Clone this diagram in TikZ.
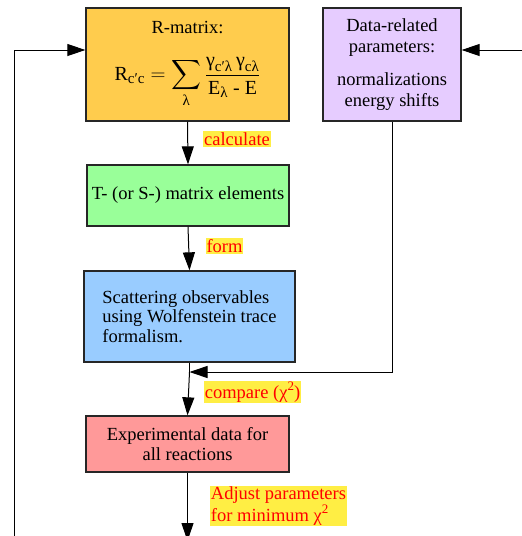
\documentclass[tikz,border=0pt]{standalone}
\usepackage{amsmath}
\usepackage{fontspec}
\setmainfont{Liberation Serif}
\usetikzlibrary{arrows.meta}

\definecolor{rmatcol}{HTML}{FFCC4D}
\definecolor{datacol}{HTML}{E6CCFF}
\definecolor{tmatcol}{HTML}{99FF99}
\definecolor{obscol}{HTML}{99CCFF}
\definecolor{expcol}{HTML}{FF9999}
\definecolor{notecol}{HTML}{FFEE44}

\newcommand{\subtxt}[1]{\text{\fontsize{15}{15}\selectfont #1}}
\newcommand{\chisq}{χ\raisebox{0.45em}{\fontsize{13}{13}\selectfont 2}}

\tikzset{
  box/.style={draw=black!85, line width=1.3pt, inner sep=0pt, align=center,
    font=\fontsize{18.5}{19.5}\selectfont},
  note/.style={fill=notecol, text=red, inner sep=1pt, align=left,
    font=\fontsize{18.5}{22}\selectfont},
  link/.style={line width=1pt, -{Triangle[length=18pt,width=12pt]}}
}

\begin{document}
\begin{tikzpicture}[x=1pt,y=-1pt]
    \useasboundingbox (0,0) rectangle (522,536);

    % boxes
    \node[box, fill=rmatcol, minimum width=203pt, minimum height=113pt] (rmat) at (187.5,64.5)
        {R-matrix:\\[22pt]
         \fontsize{20}{20}\selectfont
         $\displaystyle \text{R}_{\subtxt{c′c}} = \sum_{\subtxt{λ}}
           \frac{\text{γ}_{\subtxt{c′λ}}\,\text{γ}_{\subtxt{cλ}}}{\text{E}_{\subtxt{λ}}\text{ - E}}$};
    \node[box, fill=datacol, minimum width=138pt, minimum height=113pt,
        font=\fontsize{18.5}{21}\selectfont] (data) at (392,64.5)
        {Data-related\\parameters:\\[12pt]normalizations\\energy shifts};
    \node[box, fill=tmatcol, minimum width=202pt, minimum height=61pt] (tmat) at (188,195.5)
        {T- (or S-) matrix elements};
    \node[box, fill=obscol, minimum width=211pt, minimum height=91pt, align=left] (obs) at (189.5,316.5)
        {Scattering observables\\using Wolfenstein trace\\formalism.};
    \node[box, fill=expcol, minimum width=203pt, minimum height=56pt] (exp) at (187.5,444)
        {Experimental data for\\all reactions};

    % labels
    \node[note] (calc) at (237,139) {calculate};
    \node[note] (form) at (224.5,246) {form};
    \node[note] (comp) at (252.5,392) {compare (\chisq)};
    \node[note] (adj) at (278.5,506) {Adjust parameters\\for minimum \chisq};

    % connectors
    \coordinate (join) at (obs.south |- 0,372);
    \coordinate (out) at (exp.south |- 0,541);
    \coordinate (back) at (14,536);
    \coordinate (extra) at (522,50);

    \draw[link] (rmat.south) -- (tmat.north);
    \draw[link] (tmat.south) -- (obs.north);
    \draw[line width=1pt] (obs.south) -- (join);
    \draw[link] (join) -- (exp.north);
    \draw[link] (data.south) |- (join);
    \draw[link] (exp.south) -- (out);
    \draw[link] (back) |- (rmat.west |- extra);
    \draw[link] (extra) -- (data.east |- extra);
\end{tikzpicture}
\end{document}
